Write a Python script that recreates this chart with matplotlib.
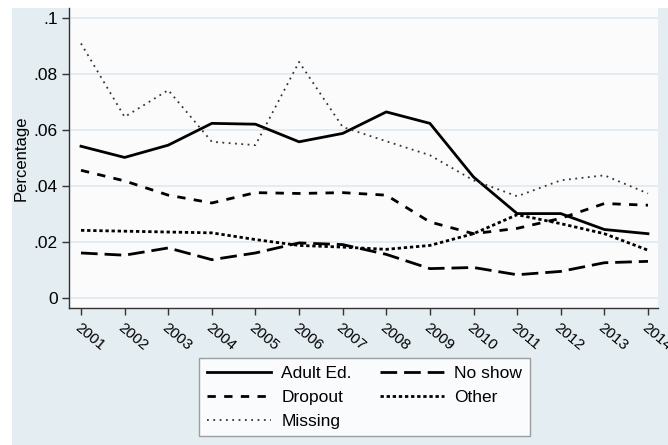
import matplotlib.pyplot as plt
from matplotlib.patches import Rectangle

plt.rcParams['font.family'] = ['Liberation Sans', 'DejaVu Sans']

years = list(range(2001, 2015))

# share of cases by outcome, per year
adult_ed = [0.0542, 0.0502, 0.0546, 0.0624, 0.0621, 0.0558, 0.0588,
            0.0665, 0.0624, 0.0432, 0.0301, 0.0301, 0.0244, 0.0229]
no_show = [0.0160, 0.0152, 0.0178, 0.0136, 0.0160, 0.0196, 0.0190,
           0.0155, 0.0104, 0.0108, 0.0082, 0.0094, 0.0125, 0.0130]
dropout = [0.0456, 0.0418, 0.0367, 0.0339, 0.0376, 0.0373, 0.0376,
           0.0367, 0.0271, 0.0229, 0.0248, 0.0284, 0.0337, 0.0331]
other = [0.0241, 0.0238, 0.0235, 0.0232, 0.0208, 0.0187, 0.0181,
         0.0173, 0.0187, 0.0229, 0.0297, 0.0265, 0.0229, 0.0170]
missing = [0.0910, 0.0647, 0.0743, 0.0558, 0.0546, 0.0844, 0.0611,
           0.0560, 0.0510, 0.0420, 0.0363, 0.0420, 0.0438, 0.0373]

ytick_vals = [0, 0.02, 0.04, 0.06, 0.08, 0.1]
ytick_labels = ['0', '.02', '.04', '.06', '.08', '.1']

W, H = 668, 445
fig = plt.figure(figsize=(W / 100, H / 100), dpi=100)
fig.patch.set_facecolor('white')

# light graph region behind the plot
fig.patches.append(Rectangle((12 / W, 0), 1 - 12 / W, (H - 8) / H,
                             transform=fig.transFigure, facecolor='#e4edf1',
                             edgecolor='none', zorder=-10))

ax = fig.add_axes([69 / W, (H - 308) / H, (658 - 69) / W, (308 - 8) / H])
ax.set_facecolor('#fbfbfb')

ax.plot(years, adult_ed, color='black', lw=2.0, label='Adult Ed.')
ax.plot(years, no_show, color='black', lw=2.0, linestyle=(0, (6, 2.5)),
        label='No show')
ax.plot(years, dropout, color='black', lw=2.0, linestyle=(0, (3, 3)),
        label='Dropout')
ax.plot(years, other, color='black', lw=2.0, linestyle=(0, (1.2, 1)),
        label='Other')
ax.plot(years, missing, color='#333333', lw=1.3, linestyle=(0, (1, 2.5)),
        label='Missing')

ax.set_xlim(2000.725, 2014.23)
ax.set_ylim(-0.0037, 0.1037)

ax.set_yticks(ytick_vals)
ax.set_yticklabels(ytick_labels, fontsize=12.5)
ax.set_xticks(years)
ax.set_xticklabels([str(y) for y in years], fontsize=11, rotation=-40,
                   ha='left', va='top', rotation_mode='anchor')
ax.tick_params(axis='both', length=5, width=1, color='#333333')
ax.tick_params(axis='y', pad=3)
ax.tick_params(axis='x', pad=4)

ax.grid(axis='y', color='#e0eaf0', lw=1.2)
ax.set_axisbelow(True)
for side in ['top', 'right']:
    ax.spines[side].set_visible(False)
for side in ['left', 'bottom']:
    ax.spines[side].set_color('#333333')
    ax.spines[side].set_linewidth(1)

ax.set_ylabel('Percentage', fontsize=12)

# legend order: Adult Ed. / No show, Dropout / Other, Missing
handles, labels = ax.get_legend_handles_labels()
order = [0, 2, 4, 1, 3]
leg = fig.legend([handles[i] for i in order], [labels[i] for i in order],
                 ncol=2, loc='upper left',
                 bbox_to_anchor=(199 / W, 1 - 358 / H),
                 fontsize=12.5, frameon=True, fancybox=False,
                 handlelength=3.7, handletextpad=0.6, columnspacing=1.6,
                 labelspacing=0.5, borderpad=0.45, borderaxespad=0)
leg.get_frame().set_edgecolor('#888888')
leg.get_frame().set_linewidth(1)

fig.savefig('out.png', dpi=100)
